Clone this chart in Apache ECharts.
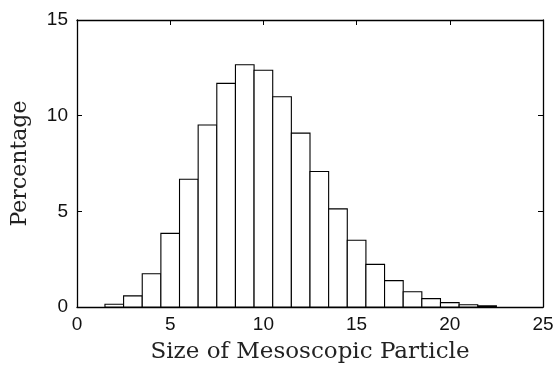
<!DOCTYPE html>
<html><head><meta charset="utf-8">
<script src="https://cdn.jsdelivr.net/npm/echarts@6/dist/echarts.min.js"></script>
<style>html,body{margin:0;padding:0;background:#fff}#c{width:556px;height:367px}</style>
</head><body><div id="c"></div>
<script>
const binCenters = [2,3,4,5,6,7,8,9,10,11,12,13,14,15,16,17,18,19,20,21,22];
const percentages = [0.14,0.58,1.74,3.85,6.68,9.51,11.69,12.66,12.37,10.99,9.09,7.08,5.13,3.49,2.23,1.38,0.80,0.44,0.23,0.12,0.06];
const xTicks = [0,5,10,15,20,25];
const yTicks = [0,5,10,15];
const binWidth = 1;

const chart = echarts.init(document.getElementById('c'));
const lbl = {fontFamily:'Liberation Sans, Arial, sans-serif', fontSize:19, color:'#111'};
const axLine = {show:true, onZero:false, lineStyle:{color:'#000', width:1.3}};
const tick = {show:true, inside:true, length:5, lineStyle:{color:'#000', width:1}};
const serif = 'DejaVu Serif, Liberation Serif, serif';
chart.setOption({
  animation:false,
  grid:{left:77, right:13, top:20, bottom:60, containLabel:false, outerBoundsMode:'none'},
  xAxis:[
    {type:'value', min:0, max:25, interval:5, position:'bottom',
     axisLine:axLine, axisTick:tick, splitLine:{show:false},
     axisLabel:Object.assign({margin:8}, lbl),
     name:'Size of Mesoscopic Particle', nameLocation:'middle', nameGap:34,
     nameTextStyle:{fontFamily:serif, fontSize:23, color:'#222'}},
    {type:'value', min:0, max:25, interval:5, position:'top',
     axisLine:axLine, axisTick:tick, splitLine:{show:false}, axisLabel:{show:false}}
  ],
  yAxis:[
    {type:'value', min:0, max:15, interval:5, position:'left',
     axisLine:axLine, axisTick:tick, splitLine:{show:false},
     axisLabel:Object.assign({margin:9}, lbl),
     name:'Percentage', nameLocation:'middle', nameGap:46,
     nameTextStyle:{fontFamily:serif, fontSize:22, color:'#222'}},
    {type:'value', min:0, max:15, interval:5, position:'right',
     axisLine:axLine, axisTick:tick, splitLine:{show:false}, axisLabel:{show:false}}
  ],
  series:[{
    type:'custom',
    xAxisIndex:0, yAxisIndex:0,
    data: binCenters.map((c,i)=>[c, percentages[i]]),
    renderItem:function(params, api){
      const c = api.value(0), v = api.value(1);
      const p0 = api.coord([c - binWidth/2, 0]);
      const p1 = api.coord([c + binWidth/2, v]);
      return {type:'rect', shape:{x:p0[0], y:p1[1], width:p1[0]-p0[0], height:p0[1]-p1[1]},
        style:{fill:'#fff', stroke:'#000', lineWidth:1.1}};
    }
  }]
});
</script></body></html>
